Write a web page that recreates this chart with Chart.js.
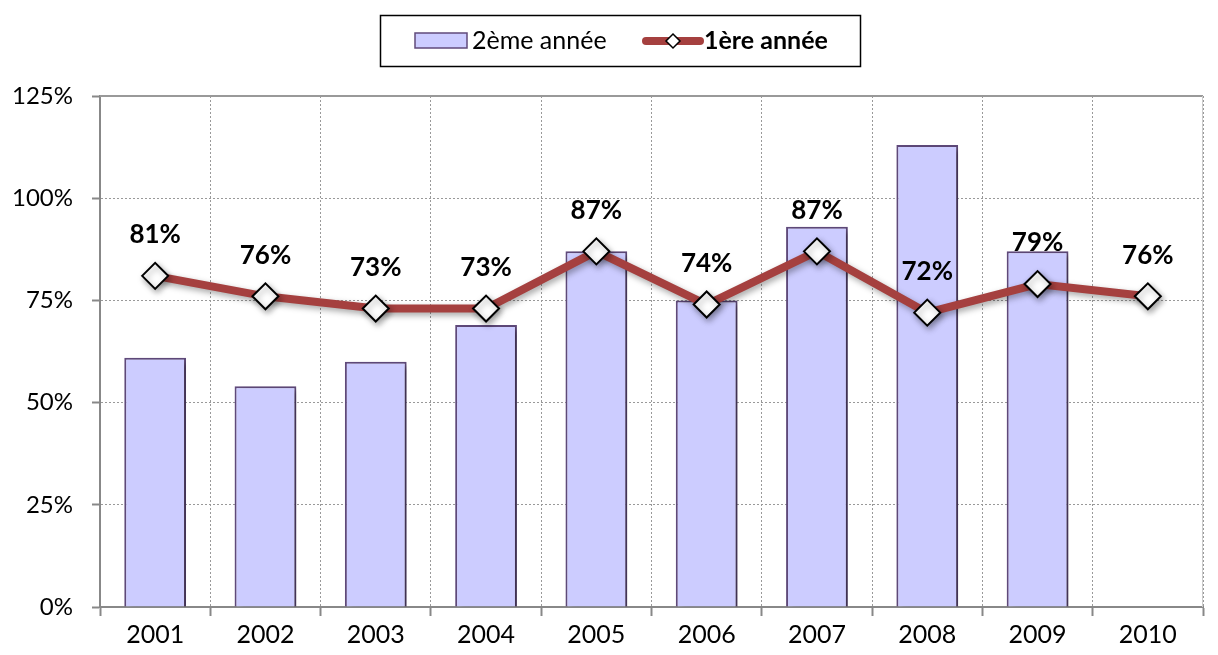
<!DOCTYPE html>
<html>
<head>
<meta charset="utf-8">
<script src="https://cdn.jsdelivr.net/npm/chart.js@4"></script>
<style>
  html, body { margin: 0; padding: 0; background: #fff; }
  #wrap { width: 1218px; height: 655px; }
</style>
</head>
<body>
<div id="wrap"><canvas id="graphique" width="1218" height="655"></canvas></div>
<script>
// données
const annees = ['2001', '2002', '2003', '2004', '2005', '2006', '2007', '2008', '2009', '2010'];
const deuxiemeAnnee = [61, 54, 60, 69, 87, 75, 93, 113, 87, null];
const premiereAnnee = [81, 76, 73, 73, 87, 74, 87, 72, 79, 76];
const graduations = [0, 25, 50, 75, 100, 125];

const police = 'Lato, "Open Sans", sans-serif';
const couleurBarre = '#CCCCFF';
const bordBarre = '#604A7B';
const couleurLigne = '#A5403F';

// ombre portée sur les barres et la ligne
const ombre = {
    id: 'ombre',
    beforeDatasetDraw(chart, args) {
        const ctx = chart.ctx;
        ctx.save();
        ctx.shadowColor = 'rgba(0,0,0,0.35)';
        ctx.shadowBlur = 6;
        ctx.shadowOffsetX = args.index === 0 ? 5 : 2;
        ctx.shadowOffsetY = 3;
    },
    afterDatasetDraw(chart) {
        chart.ctx.restore();
    }
};

// cadre haut / droit de la zone de tracé
const cadre = {
    id: 'cadre',
    beforeDatasetsDraw(chart) {
        const { ctx, chartArea: a } = chart;
        ctx.save();
        ctx.strokeStyle = '#999';
        ctx.lineWidth = 2;
        ctx.beginPath();
        ctx.moveTo(a.left, a.top);
        ctx.lineTo(a.right, a.top);
        ctx.stroke();
        ctx.strokeStyle = '#ccc';
        ctx.lineWidth = 1;
        ctx.beginPath();
        ctx.moveTo(a.right - 0.5, a.top);
        ctx.lineTo(a.right - 0.5, a.bottom);
        ctx.stroke();
        ctx.restore();
    }
};

// étiquettes de la série "1ère année"
const etiquettes = {
    id: 'etiquettes',
    afterDatasetsDraw(chart) {
        const ctx = chart.ctx;
        const meta = chart.getDatasetMeta(1);
        ctx.save();
        ctx.font = 'bold 26px ' + police;
        ctx.fillStyle = '#000';
        ctx.textAlign = 'center';
        ctx.textBaseline = 'middle';
        meta.data.forEach((pt, i) => {
            ctx.fillText(premiereAnnee[i] + '%', pt.x, pt.y - 41);
        });
        ctx.restore();
    }
};

// légende encadrée (2ème année normal, 1ère année en gras)
const legende = {
    id: 'legende',
    afterDraw(chart) {
        const ctx = chart.ctx;
        const ds = chart.data.datasets;
        ctx.save();
        ctx.strokeStyle = '#000';
        ctx.lineWidth = 1.5;
        ctx.strokeRect(380.5, 15.5, 480, 51);

        ctx.fillStyle = couleurBarre;
        ctx.strokeStyle = bordBarre;
        ctx.lineWidth = 1.5;
        ctx.fillRect(415, 33, 52, 15);
        ctx.strokeRect(415, 33, 52, 15);

        ctx.fillStyle = '#000';
        ctx.textBaseline = 'middle';
        ctx.font = '25px ' + police;
        ctx.fillText(ds[0].label, 472, 41);

        ctx.strokeStyle = couleurLigne;
        ctx.lineWidth = 8;
        ctx.lineCap = 'round';
        ctx.beginPath();
        ctx.moveTo(646, 41);
        ctx.lineTo(700, 41);
        ctx.stroke();

        ctx.fillStyle = '#fff';
        ctx.strokeStyle = '#000';
        ctx.lineWidth = 1.5;
        ctx.lineCap = 'butt';
        ctx.beginPath();
        ctx.moveTo(673, 34);
        ctx.lineTo(680, 41);
        ctx.lineTo(673, 48);
        ctx.lineTo(666, 41);
        ctx.closePath();
        ctx.fill();
        ctx.stroke();

        ctx.fillStyle = '#000';
        ctx.font = 'bold 25px ' + police;
        ctx.fillText(ds[1].label, 704, 41);
        ctx.restore();
    }
};

const ctx = document.getElementById('graphique').getContext('2d');

new Chart(ctx, {
    type: 'bar',
    data: {
        labels: annees,
        datasets: [
            {
                type: 'bar',
                label: '2ème année',
                data: deuxiemeAnnee,
                backgroundColor: couleurBarre,
                borderColor: bordBarre,
                borderWidth: 2,
                borderSkipped: 'bottom',
                categoryPercentage: 1,
                barPercentage: 0.56,
                order: 2
            },
            {
                type: 'line',
                label: '1ère année',
                data: premiereAnnee,
                borderColor: couleurLigne,
                borderWidth: 8,
                tension: 0,
                pointStyle: 'rectRot',
                pointRadius: 13,
                pointBackgroundColor: '#fff',
                pointBorderColor: '#000',
                pointBorderWidth: 2,
                order: 1
            }
        ]
    },
    options: {
        responsive: false,
        animation: false,
        layout: { padding: { top: 96, right: 1, left: 0, bottom: 0 } },
        plugins: {
            legend: { display: false },
            tooltip: { enabled: false }
        },
        scales: {
            x: {
                offset: true,
                grid: {
                    offset: true,
                    color: '#999',
                    lineWidth: 1,
                    tickColor: '#888',
                    tickLength: 9,
                    tickWidth: 2,
                    tickBorderDash: []
                },
                border: { color: '#888', width: 2, dash: [2, 2] },
                ticks: {
                    color: '#000',
                    font: { family: police, size: 25 },
                    padding: 4
                },
                afterFit(s) { s.height = 48; }
            },
            y: {
                min: 0,
                max: 125,
                afterBuildTicks(s) {
                    s.ticks = graduations.map(v => ({ value: v }));
                },
                grid: {
                    color: '#999',
                    lineWidth: 1,
                    tickColor: '#888',
                    tickLength: 8,
                    tickWidth: 2,
                    tickBorderDash: []
                },
                border: { color: '#888', width: 2, dash: [2, 2] },
                ticks: {
                    color: '#000',
                    font: { family: police, size: 24 },
                    padding: 19,
                    callback: v => v + '%'
                },
                afterFit(s) { s.width = 100; }
            }
        }
    },
    plugins: [ombre, cadre, etiquettes, legende]
});
</script>
</body>
</html>
